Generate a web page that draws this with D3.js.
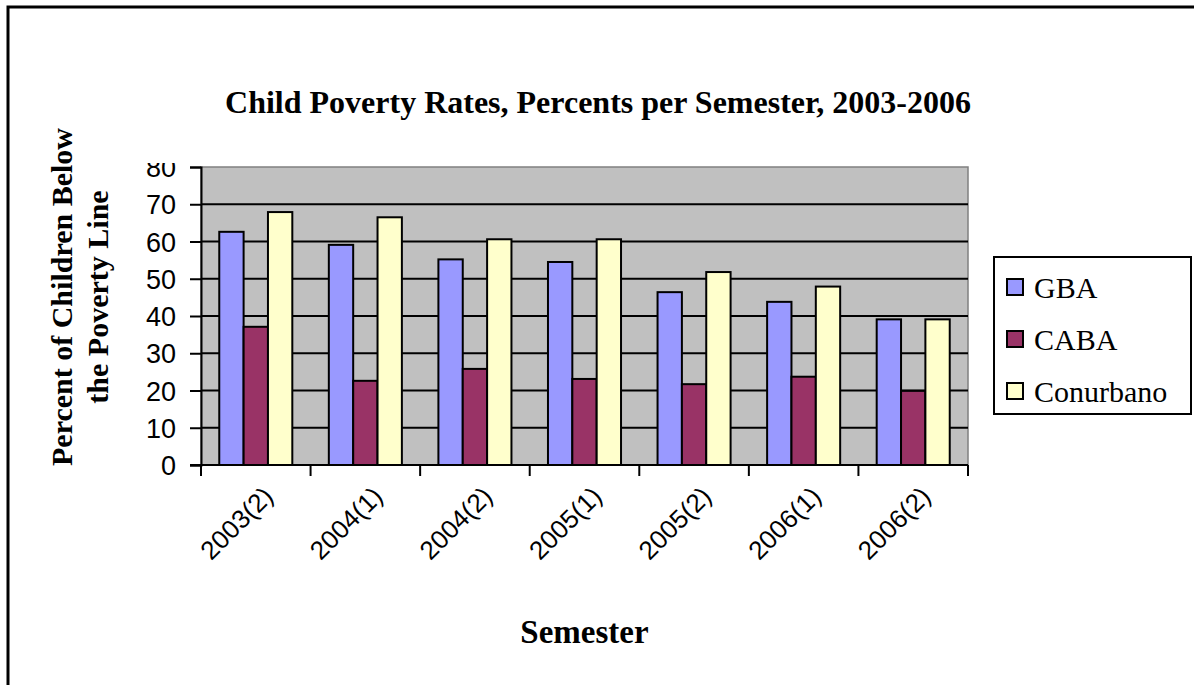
<!DOCTYPE html>
<html>
<head>
<meta charset="utf-8">
<script src="https://cdnjs.cloudflare.com/ajax/libs/d3/7.8.5/d3.min.js"></script>
<style>
  body { margin: 0; background: #ffffff; }
  svg { display: block; }
  .serif { font-family: "Liberation Serif", "Times New Roman", serif; }
  .sans { font-family: "Liberation Sans", Arial, sans-serif; }
</style>
</head>
<body>
<div id="chart"></div>
<script>
  // chart data
  var semesters = ["2003(2)", "2004(1)", "2004(2)", "2005(1)", "2005(2)", "2006(1)", "2006(2)"];
  var seriesNames = ["GBA", "CABA", "Conurbano"];
  var seriesColors = ["#9999ff", "#993366", "#ffffcc"];
  var gbaValues = [62.6, 59.1, 55.2, 54.5, 46.4, 43.8, 39.1];
  var cabaValues = [37.1, 22.6, 25.8, 23.1, 21.7, 23.7, 19.9];
  var conurbanoValues = [67.9, 66.5, 60.6, 60.6, 51.8, 47.9, 39.1];
  var yTicks = [0, 10, 20, 30, 40, 50, 60, 70, 80];

  var width = 1194;
  var height = 685;
  var plot = { left: 201, right: 968, top: 167, bottom: 465 };

  var allValues = [gbaValues, cabaValues, conurbanoValues];
  var rows = semesters.map(function(s, i) {
    return {
      semester: s,
      values: seriesNames.map(function(name, k) {
        return { name: name, value: allValues[k][i], color: seriesColors[k] };
      })
    };
  });

  var svg = d3
    .select("#chart")
    .append("svg")
    .attr("width", width)
    .attr("height", height);

  svg
    .append("rect")
    .attr("width", width)
    .attr("height", height)
    .style("fill", "#ffffff");

  // outer chart frame, runs off the right and bottom edges
  svg
    .append("rect")
    .attr("x", 8)
    .attr("y", 7)
    .attr("width", width + 20)
    .attr("height", height + 20)
    .style("fill", "none")
    .style("stroke", "#000000")
    .style("stroke-width", 3);

  var x0 = d3
    .scaleBand()
    .domain(semesters)
    .range([plot.left, plot.right])
    .paddingInner(0)
    .paddingOuter(0);

  // excel gap width of 150%: 3 bars + 1.5 bar of gap per category
  var barW = x0.bandwidth() / 4.5;
  var x1 = d3
    .scaleBand()
    .domain(seriesNames)
    .range([barW * 0.75, barW * 3.75]);

  var y = d3
    .scaleLinear()
    .domain([0, 80])
    .range([plot.bottom, plot.top]);

  // plot area
  svg
    .append("rect")
    .attr("x", plot.left)
    .attr("y", plot.top)
    .attr("width", plot.right - plot.left)
    .attr("height", plot.bottom - plot.top)
    .style("fill", "#c0c0c0")
    .style("stroke", "#808080")
    .style("stroke-width", 1.5);

  svg
    .append("g")
    .selectAll("line")
    .data(yTicks.slice(1, -1))
    .enter()
    .append("line")
    .attr("x1", plot.left)
    .attr("x2", plot.right)
    .attr("y1", function(d) { return y(d); })
    .attr("y2", function(d) { return y(d); })
    .style("stroke", "#000000")
    .style("stroke-width", 2);

  // bars
  var groups = svg
    .append("g")
    .selectAll("g")
    .data(rows)
    .enter()
    .append("g")
    .attr("transform", function(d) { return "translate(" + x0(d.semester) + ",0)"; });

  groups
    .selectAll("rect")
    .data(function(d) { return d.values; })
    .enter()
    .append("rect")
    .attr("x", function(d) { return x1(d.name); })
    .attr("y", function(d) { return y(d.value); })
    .attr("width", x1.bandwidth())
    .attr("height", function(d) { return y(0) - y(d.value); })
    .style("fill", function(d) { return d.color; })
    .style("stroke", "#000000")
    .style("stroke-width", 2);

  // y axis, the top label is cut off like in the original
  svg
    .append("clipPath")
    .attr("id", "yclip")
    .append("rect")
    .attr("x", 100)
    .attr("y", 163)
    .attr("width", 120)
    .attr("height", 340);

  var yAxis = svg
    .append("g")
    .attr("clip-path", "url(#yclip)")
    .append("g")
    .attr("transform", "translate(" + plot.left + ",0)")
    .call(d3.axisLeft(y).tickValues(yTicks).tickSize(11).tickPadding(14));
  yAxis.select(".domain").style("stroke", "#000000").style("stroke-width", 2);
  yAxis.selectAll(".tick line").style("stroke", "#000000").style("stroke-width", 2);
  yAxis
    .selectAll(".tick text")
    .attr("class", "sans")
    .style("font-size", "27px")
    .style("fill", "#000000")
    .attr("dy", "0.36em");

  // x axis: ticks on category boundaries
  var xAxis = svg
    .append("g")
    .attr("transform", "translate(0," + plot.bottom + ")");
  xAxis
    .append("line")
    .attr("x1", plot.left - 11)
    .attr("x2", plot.right)
    .style("stroke", "#000000")
    .style("stroke-width", 2);
  xAxis
    .selectAll("line.tick")
    .data(semesters.concat(["end"]))
    .enter()
    .append("line")
    .attr("class", "tick")
    .attr("x1", function(d, i) { return plot.left + i * x0.step(); })
    .attr("x2", function(d, i) { return plot.left + i * x0.step(); })
    .attr("y1", 0)
    .attr("y2", 11)
    .style("stroke", "#000000")
    .style("stroke-width", 2);
  xAxis
    .selectAll("text")
    .data(semesters)
    .enter()
    .append("text")
    .attr("class", "sans")
    .attr("transform", function(d) {
      return "translate(" + (x0(d) + x0.bandwidth() / 2 + 6) + ",20) rotate(-45)";
    })
    .attr("text-anchor", "end")
    .attr("dy", "0.7em")
    .style("font-size", "26px")
    .style("fill", "#000000")
    .text(function(d) { return d; });

  // titles
  svg
    .append("text")
    .attr("class", "serif")
    .attr("x", 598)
    .attr("y", 113)
    .attr("text-anchor", "middle")
    .style("font-size", "32px")
    .style("font-weight", "bold")
    .text("Child Poverty Rates, Percents per Semester, 2003-2006");

  svg
    .append("text")
    .attr("class", "serif")
    .attr("x", (plot.left + plot.right) / 2)
    .attr("y", 643)
    .attr("text-anchor", "middle")
    .style("font-size", "33px")
    .style("font-weight", "bold")
    .text("Semester");

  var yTitle = svg
    .append("text")
    .attr("class", "serif")
    .attr("transform", "translate(72,297) rotate(-90)")
    .attr("text-anchor", "middle")
    .style("font-size", "30px")
    .style("font-weight", "bold");
  yTitle.append("tspan").attr("x", 0).attr("y", 0).text("Percent of Children Below");
  yTitle.append("tspan").attr("x", 0).attr("y", 36).text("the Poverty Line");

  // legend
  var legend = svg.append("g").attr("transform", "translate(994,257)");
  legend
    .append("rect")
    .attr("width", 197)
    .attr("height", 157)
    .style("fill", "#ffffff")
    .style("stroke", "#000000")
    .style("stroke-width", 2);

  var items = legend
    .selectAll("g")
    .data(seriesNames)
    .enter()
    .append("g")
    .attr("transform", function(d, i) { return "translate(0," + (30 + i * 52) + ")"; });
  items
    .append("rect")
    .attr("x", 13)
    .attr("y", -8)
    .attr("width", 16)
    .attr("height", 16)
    .style("fill", function(d, i) { return seriesColors[i]; })
    .style("stroke", "#000000")
    .style("stroke-width", 2);
  items
    .append("text")
    .attr("class", "serif")
    .attr("x", 40)
    .attr("y", 11)
    .style("font-size", "30px")
    .text(function(d) { return d; });
</script>
</body>
</html>
